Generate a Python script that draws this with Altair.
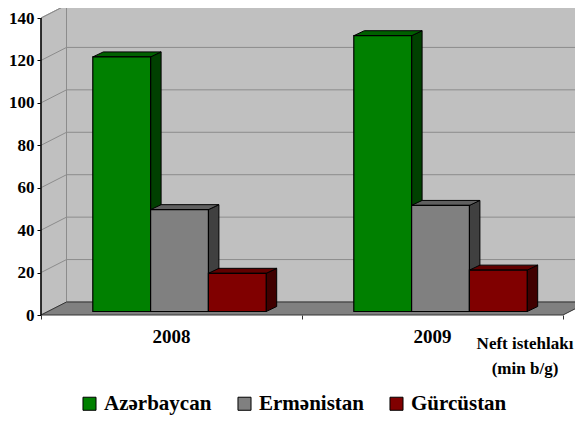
import altair as alt
import pandas as pd

years = ["2008", "2009"]
series = ["Azərbaycan", "Ermənistan", "Gürcüstan"]
values = {
    "Azərbaycan": [120, 130],
    "Ermənistan": [48, 50],
    "Gürcüstan": [18, 19.5],
}
front_colors = ["#008000", "#808080", "#800000"]
top_colors = ["#006000", "#606060", "#600000"]
side_colors = ["#004000", "#404040", "#400000"]
y_ticks = [0, 20, 40, 60, 80, 100, 120, 140]
unit_lines = ["Neft istehlakı", "(min b/g)"]

FONT = "Liberation Serif"
W, H = 534, 307
GROUP_PX = 261.0
VALUE_PX = 297.0 / 140
XMAX = W / GROUP_PX
YMAX = H / VALUE_PX


def ux(px):
    return px / GROUP_PX


def uy(px):
    return px / VALUE_PX


WALL_DX, WALL_DY = ux(25.5), uy(13)
BAR_W = ux(57.8)
BAR_START = ux(51.8)
BASE = uy(3.5)
BAR_DX, BAR_DY = ux(10.5), uy(5)

x_scale = alt.Scale(domain=[0, XMAX], nice=False, zero=False)
y_scale = alt.Scale(domain=[0, YMAX], nice=False, zero=False)


def X(name="x", **kw):
    return alt.X(f"{name}:Q", scale=x_scale, title=None, **kw)


def Y(name="y", **kw):
    return alt.Y(f"{name}:Q", scale=y_scale, title=None, **kw)


# axes come first so that their settings win when the layers are merged
axes = alt.Chart(pd.DataFrame([{"x": 0, "y": 0}])).mark_point(opacity=0).encode(
    x=alt.X("x:Q", scale=x_scale, title=None, axis=alt.Axis(
        values=[0, 1, 2], labels=False, grid=False, domain=False,
        tickColor="#333333", tickSize=4)),
    y=alt.Y("y:Q", scale=y_scale, axis=alt.Axis(
        values=y_ticks, format="d", grid=False, domain=False, title=None,
        tickColor="black", tickSize=4, labelPadding=3,
        labelFont=FONT, labelFontWeight="bold", labelFontSize=17, labelColor="black")),
)

# walls and floor
back_wall = alt.Chart(pd.DataFrame([{
    "x": WALL_DX, "x2": XMAX + 0.1, "y": WALL_DY, "y2": 140 + WALL_DY}])
).mark_rect(color="#C0C0C0", stroke="#8c8c8c", strokeWidth=1).encode(
    x=X(), x2="x2:Q", y=Y(), y2="y2:Q")

left_wall = alt.Chart(pd.DataFrame([
    {"x": 0, "y": 0, "y2": 140},
    {"x": WALL_DX, "y": WALL_DY, "y2": 140 + WALL_DY},
])).mark_area(orient="vertical", color="#C0C0C0", stroke="#8c8c8c", strokeWidth=1).encode(
    x=X(), y=Y(), y2="y2:Q")

floor = alt.Chart(pd.DataFrame([
    {"y": 0, "x": 0, "x2": 2},
    {"y": WALL_DY, "x": WALL_DX, "x2": 2 + WALL_DX},
])).mark_area(orient="horizontal", color="#808080", stroke="#333333", strokeWidth=1).encode(
    y=Y(), x=X(), x2="x2:Q")

grid_back = alt.Chart(pd.DataFrame([
    {"y": t + WALL_DY, "x": WALL_DX, "x2": XMAX + 0.1} for t in y_ticks[1:-1]
])).mark_rule(color="#8c8c8c", strokeWidth=1).encode(y=Y(), x=X(), x2="x2:Q")

slant_rows = []
for t in y_ticks[1:]:
    slant_rows.append({"t": t, "x": 0, "y": t})
    slant_rows.append({"t": t, "x": WALL_DX, "y": t + WALL_DY})
grid_left = alt.Chart(pd.DataFrame(slant_rows)).mark_line(color="#8c8c8c", strokeWidth=1).encode(
    x=X(), y=Y(), detail="t:N")

# bars
side_rows, top_rows, front_rows = [], [], []
for g, year in enumerate(years):
    for s, name in enumerate(series):
        v = values[name][g]
        x0 = g + BAR_START + s * BAR_W
        x1 = x0 + BAR_W
        top = BASE + v
        front_rows.append({"series": name, "x": x0, "x2": x1, "y": BASE, "y2": top})
        face = f"{year}-{name}"
        side_rows.append({"face": face, "color": side_colors[s], "x": x1, "y": BASE, "y2": top})
        side_rows.append({"face": face, "color": side_colors[s], "x": x1 + BAR_DX, "y": BASE + BAR_DY, "y2": top + BAR_DY})
        top_rows.append({"face": face, "color": top_colors[s], "y": top, "x": x0, "x2": x1})
        top_rows.append({"face": face, "color": top_colors[s], "y": top + BAR_DY, "x": x0 + BAR_DX, "x2": x1 + BAR_DX})

sides = alt.Chart(pd.DataFrame(side_rows)).mark_area(
    orient="vertical", stroke="black", strokeWidth=1).encode(
    x=X(), y=Y(), y2="y2:Q", detail="face:N", color=alt.Color("color:N", scale=None))

tops = alt.Chart(pd.DataFrame(top_rows)).mark_area(
    orient="horizontal", stroke="black", strokeWidth=1).encode(
    y=Y(), x=X(), x2="x2:Q", detail="face:N", color=alt.Color("color:N", scale=None))

fronts = alt.Chart(pd.DataFrame(front_rows)).mark_bar(stroke="black", strokeWidth=1.2).encode(
    x=X(), x2="x2:Q", y=Y(), y2="y2:Q",
    fill=alt.Fill("series:N", sort=series,
                  scale=alt.Scale(domain=series, range=front_colors),
                  legend=alt.Legend(
                      title=None, orient="none", direction="horizontal",
                      legendX=38, legendY=385, columns=3,
                      symbolType="square", symbolSize=170,
                      symbolStrokeColor="black", symbolStrokeWidth=1,
                      labelFont=FONT, labelFontWeight="bold", labelFontSize=21,
                      labelColor="black", labelOffset=4, columnPadding=22,
                      labelLimit=200)))

y_line = alt.Chart(pd.DataFrame([{"x": 0, "y": 0, "y2": 140}])).mark_rule(
    color="black", strokeWidth=1.5).encode(x=X(), y=Y(), y2="y2:Q")

year_labels = alt.Chart(pd.DataFrame({"year": years, "x": [0.5, 1.5], "y": [0, 0]})).mark_text(
    font=FONT, fontWeight="bold", fontSize=19, color="black", dy=22).encode(
    x=X(), y=Y(), text="year:N")

unit_1 = alt.Chart(pd.DataFrame({"line": unit_lines[:1], "x": [ux(484)], "y": [0]})).mark_text(
    font=FONT, fontWeight="bold", fontSize=17, color="black", dy=29).encode(
    x=X(), y=Y(), text="line:N")
unit_2 = alt.Chart(pd.DataFrame({"line": unit_lines[1:], "x": [ux(484)], "y": [0]})).mark_text(
    font=FONT, fontWeight="bold", fontSize=17, color="black", dy=54).encode(
    x=X(), y=Y(), text="line:N")

chart = alt.layer(
    axes, back_wall, left_wall, floor, grid_back, grid_left,
    sides, tops, fronts, y_line, year_labels, unit_1, unit_2,
).resolve_scale(color="independent", fill="independent").properties(
    width=W, height=H,
    autosize=alt.AutoSizeParams(type="none"),
    padding={"left": 33, "top": 0, "right": 0, "bottom": 100},
    background="white",
).configure_view(stroke=None)

chart.save("out.html", embed_options={"renderer": "svg", "actions": False})
